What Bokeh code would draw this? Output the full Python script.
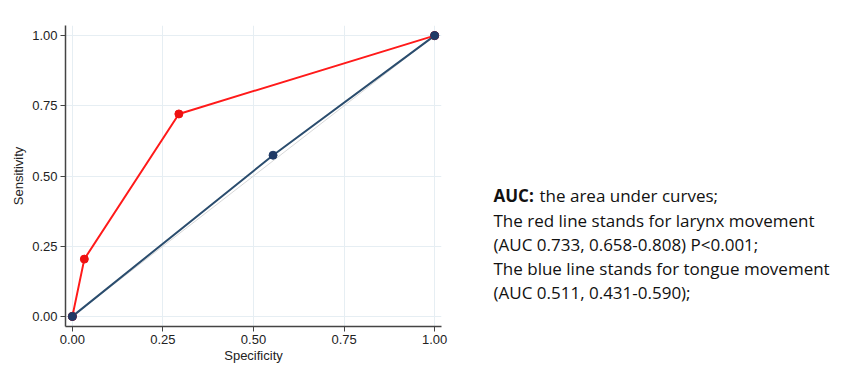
from bokeh.plotting import figure
from bokeh.models import Range1d, FixedTicker, ColumnDataSource
from bokeh.layouts import row
from bokeh.core.properties import value
from bokeh.embed import file_html
from bokeh.resources import INLINE

# Data
red_spec = [0.0, 0.033, 0.294, 1.0]
red_sens = [0.0, 0.204, 0.721, 1.0]
blue_spec = [0.0, 0.554, 1.0]
blue_sens = [0.0, 0.574, 1.0]
ticks = [0.0, 0.25, 0.5, 0.75, 1.0]
tick_labels = {0.0: "0.00", 0.25: "0.25", 0.5: "0.50", 0.75: "0.75", 1.0: "1.00"}
note_head = "AUC:"
note_lines = [
    "the area under curves;",
    "The red line stands for larynx movement",
    "(AUC 0.733, 0.658-0.808) P<0.001;",
    "The blue line stands for tongue movement",
    "(AUC 0.511, 0.431-0.590);",
]

H = 379
W1 = 451
W2 = 407
TOP, BOT = 25, 53
p = figure(width=W1, height=H, output_backend="svg", toolbar_location=None,
           x_range=Range1d(-0.019, 1.019), y_range=Range1d(-0.036, 1.036),
           min_border_left=65, min_border_right=10, min_border_top=TOP, min_border_bottom=BOT)
p.outline_line_color = None
p.background_fill_color = "white"
p.border_fill_color = "white"

FONT = "Liberation Sans"
for ax in (p.xaxis[0], p.yaxis[0]):
    ax.ticker = FixedTicker(ticks=ticks)
    ax.major_label_overrides = tick_labels
    ax.minor_tick_line_color = None
    ax.major_tick_out = 5
    ax.major_tick_in = 0
    ax.axis_line_color = "#444444"
    ax.axis_line_width = 1.5
    ax.major_tick_line_color = "#444444"
    ax.major_label_text_font = FONT
    ax.major_label_text_font_size = "13px"
    ax.major_label_text_color = "#222222"
    ax.major_label_standoff = 3
    ax.axis_label_text_font = FONT
    ax.axis_label_text_font_size = "13px"
    ax.axis_label_text_font_style = "normal"
    ax.axis_label_text_color = "#222222"

p.xaxis.axis_label = "Specificity"
p.yaxis.axis_label = "Sensitivity"
p.xaxis.axis_label_standoff = 1
p.yaxis.axis_label_standoff = 3

p.xgrid.ticker = FixedTicker(ticks=ticks)
p.ygrid.ticker = FixedTicker(ticks=ticks)
p.grid.grid_line_color = "#e6eef3"
p.grid.grid_line_width = 1

p.line([0, 1], [0, 1], line_color="#d8d8d8", line_width=1)
p.line(blue_spec, blue_sens, line_color="#2b4d6e", line_width=2)
p.scatter(blue_spec, blue_sens, size=8, fill_color="#1f3a66", line_color="#1f3a66")
p.line(red_spec, red_sens, line_color="#ff1a1a", line_width=2)
p.scatter(red_spec, red_sens, size=8, fill_color="#ee1111", line_color="#ee1111")
p.scatter([blue_spec[0], blue_spec[-1]], [blue_sens[0], blue_sens[-1]], size=8,
          fill_color="#1f3a66", line_color="#1f3a66")

# Text panel: coordinates equal page pixels (y pointing down)
t = figure(title=None, width=W2, height=H, output_backend="svg",
           toolbar_location=None,
           x_range=Range1d(W1, W1 + W2), y_range=Range1d(H - BOT, TOP),
           x_axis_type=None, y_axis_type=None,
           min_border_left=0, min_border_right=0, min_border_top=TOP, min_border_bottom=BOT)
t.outline_line_color = None
t.grid.visible = False
t.border_fill_color = "white"

x0 = 493
ys = [195, 219.5, 243.5, 267.5, 292]
fs = "17px"
t.text(x=[x0], y=[ys[0]], text=[note_head], text_font=value("Open Sans"),
       text_font_size=fs, text_font_style="bold", text_baseline="middle",
       text_color="#111111")
t.text(x=[x0 + 46], y=[ys[0]], text=[note_lines[0]], text_font=value("Open Sans"),
       text_font_size=fs, text_baseline="middle", text_color="#111111")
src = ColumnDataSource(dict(x=[x0] * 4, y=ys[1:], text=note_lines[1:]))
t.text(x="x", y="y", text="text", source=src, text_font=value("Open Sans"),
       text_font_size=fs, text_baseline="middle", text_color="#111111")

layout = row(p, t)
open("out.html", "w").write(file_html(layout, INLINE))
